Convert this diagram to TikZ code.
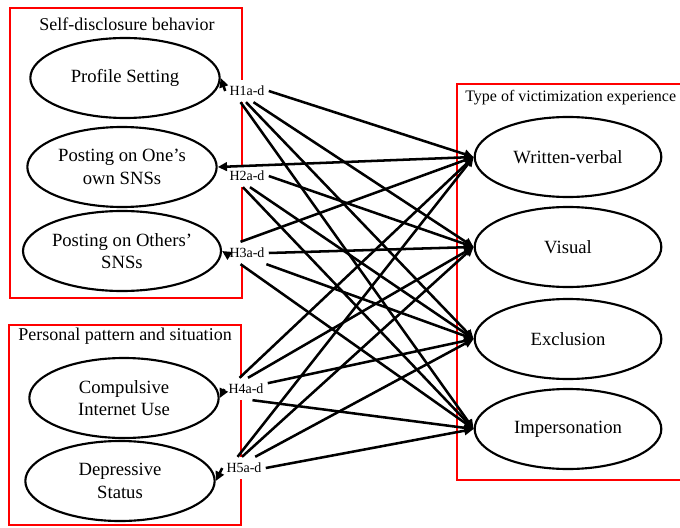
\documentclass[tikz,border=0pt]{standalone}
\usepackage{fontspec}
\setmainfont{Liberation Serif}
\usetikzlibrary{shapes,arrows.meta}
\begin{document}
\begin{tikzpicture}[x=0.75pt,y=-0.75pt]
	\tikzstyle{var}=[draw,ellipse,line width=1.6pt,inner sep=0pt,minimum width=142pt,minimum height=60pt,align=center,font=\fontsize{14}{17}\selectfont]
	\tikzstyle{dv}=[var,minimum width=140pt]
	\tikzstyle{hyp}=[fill=white,inner xsep=3pt,inner ysep=4.5pt,font=\fontsize{10.5}{12}\selectfont]
	\tikzstyle{grp}=[draw=red,line width=1.4pt]
	\tikzstyle{ttl}=[inner sep=0pt,font=\fontsize{13.5}{16}\selectfont]
	\tikzstyle{link}=[line width=1.9pt,-{Triangle[length=7pt,width=6.5pt]}]
	\useasboundingbox (0,0) rectangle (680,527);
	\draw [grp] (10,8) rectangle (242,298);
	\draw [grp] (9,325) rectangle (241,525);
	\draw [grp] (457,84) rectangle (720,480);
	\node [ttl] (sdb) at (127,24) {Self-disclosure behavior};
	\node [ttl] (pps) at (125,336) {Personal pattern and situation};
	\node [ttl,anchor=west,font=\fontsize{12}{14}\selectfont] (tve) at (465,98) {Type of victimization experience};
	\node [var] (ps) at (125,78) {Profile Setting};
	\node [var] (own) at (122,167) {Posting on One's\\own SNSs};
	\node [var] (oth) at (122,251) {Posting on Others'\\SNSs};
	\node [var] (ciu) at (124,398) {Compulsive\\Internet Use};
	\node [var] (dep) at (120,481) {Depressive\\Status};
	\node [dv] (wv) at (568,157) {Written-verbal};
	\node [dv] (vis) at (568,247) {Visual};
	\node [dv] (exc) at (568,339) {Exclusion};
	\node [dv] (imp) at (568,429) {Impersonation};
	\node [hyp] (h1) at (247,91) {H1a-d};
	\node [hyp] (h2) at (247,176) {H2a-d};
	\node [hyp] (h3) at (247,253) {H3a-d};
	\node [hyp] (h4) at (246,389) {H4a-d};
	\node [hyp] (h5) at (244,468) {H5a-d};
	\draw [link] (h1.west) -- (ps.east);
	\draw [link] (h1.east) -- (wv.west);
	\draw [link] (h1.-60) -- (vis.west);
	\draw [link] (h1.-95) -- (exc.west);
	\draw [link] (h1.-120) -- (imp.west);
	\draw [link,{Triangle[length=7pt,width=6.5pt]}-{Triangle[length=7pt,width=6.5pt]}] (own.east) -- (wv.west);
	\draw [link] (h2.east) -- (vis.west);
	\draw [link] (h2.-75) -- (exc.west);
	\draw [link] (h2.-110) -- (imp.west);
	\draw [link] (h3.west) -- (oth.east);
	\draw [link] (h3.120) -- (wv.west);
	\draw [link] (h3.east) -- (vis.west);
	\draw [link] (h3.-30) -- (exc.west);
	\draw [link] (h3.-120) -- (imp.west);
	\draw [link] (h4.west) -- (ciu.east);
	\draw [link] (h4.120) -- (wv.west);
	\draw [link] (h4.80) -- (vis.west);
	\draw [link] (h4.15) -- (exc.west);
	\draw [link] (h4.-60) -- (imp.west);
	\draw [link] (h5.west) -- (dep.east);
	\draw [link] (h5.120) -- (wv.west);
	\draw [link] (h5.100) -- (vis.west);
	\draw [link] (h5.45) -- (exc.west);
	\draw [link] (h5.east) -- (imp.west);
\end{tikzpicture}
\end{document}
